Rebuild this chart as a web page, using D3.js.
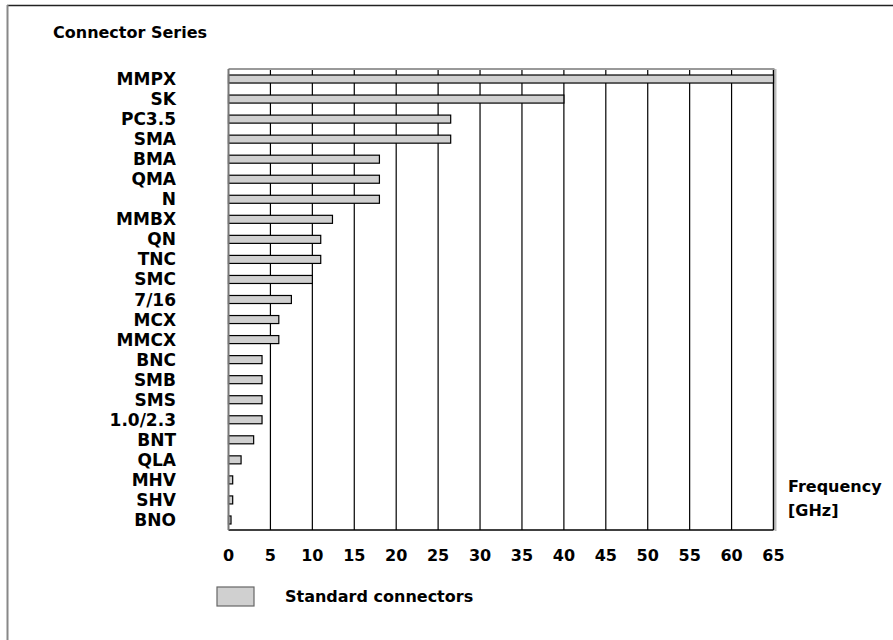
<!DOCTYPE html>
<html>
<head>
<meta charset="utf-8">
<script src="https://cdn.jsdelivr.net/npm/d3@7"></script>
<style>
  html, body { margin: 0; padding: 0; background: #fff; }
  svg text { font-family: "DejaVu Sans", sans-serif; font-weight: bold; fill: #000; }
</style>
</head>
<body>
<svg id="chart" width="893" height="640"></svg>
<script>
const categories = ["MMPX","SK","PC3.5","SMA","BMA","QMA","N","MMBX","QN","TNC","SMC","7/16","MCX","MMCX","BNC","SMB","SMS","1.0/2.3","BNT","QLA","MHV","SHV","BNO"];
const frequencies = [65,40,26.5,26.5,18,18,18,12.4,11,11,10,7.5,6,6,4,4,4,4,3,1.5,0.5,0.5,0.3];
const xTicks = [0,5,10,15,20,25,30,35,40,45,50,55,60,65];
const titleText = "Connector Series";
const axisTitle = ["Frequency", "[GHz]"];
const legendLabel = "Standard connectors";

const svg = d3.select("#chart");
const pL = 228.5, pR = 773.5, pT = 69, pB = 530;

const x = d3.scaleLinear().domain([0, 65]).range([pL, pR]);
const y = d3.scaleBand().domain(categories).range([pT, pB]).paddingInner(0.6).paddingOuter(0.3);

// outer frame (top + left)
svg.append("line").attr("x1", 7).attr("x2", 893).attr("y1", 5.5).attr("y2", 5.5).attr("stroke", "#222").attr("stroke-width", 1.5);
svg.append("line").attr("x1", 7.5).attr("x2", 7.5).attr("y1", 5).attr("y2", 640).attr("stroke", "#888").attr("stroke-width", 2);

// title
svg.append("text").attr("x", 53).attr("y", 38).style("font-size", "16px").text(titleText);

// gridlines
svg.append("g").selectAll("line").data(xTicks.filter(d => d > 0 && d < 65)).join("line")
  .attr("x1", d => x(d)).attr("x2", d => x(d)).attr("y1", pT).attr("y2", pB)
  .attr("stroke", "#000").attr("stroke-width", 1.2);

// frame
svg.append("line").attr("x1", x(65) + 2).attr("x2", x(65) + 2).attr("y1", pT).attr("y2", pB + 1).attr("stroke", "#bbb").attr("stroke-width", 2);
svg.append("line").attr("x1", x(65)).attr("x2", x(65)).attr("y1", pT).attr("y2", pB).attr("stroke", "#000").attr("stroke-width", 1.5);
svg.append("line").attr("x1", pL).attr("x2", pR).attr("y1", pB).attr("y2", pB).attr("stroke", "#000").attr("stroke-width", 1.5);
svg.append("line").attr("x1", pL).attr("x2", pR + 1).attr("y1", pT).attr("y2", pT).attr("stroke", "#999").attr("stroke-width", 2);

// bars
svg.append("g").selectAll("rect").data(categories).join("rect")
  .attr("x", x(0))
  .attr("y", d => y(d))
  .attr("width", (d, i) => x(frequencies[i]) - x(0))
  .attr("height", y.bandwidth())
  .attr("fill", "#d0d0d0").attr("stroke", "#000").attr("stroke-width", 1.2);

svg.append("line").attr("x1", pL).attr("x2", pL).attr("y1", pT).attr("y2", pB).attr("stroke", "#777").attr("stroke-width", 2);

// category labels
svg.append("g").selectAll("text").data(categories).join("text")
  .attr("x", 176).attr("y", d => y(d) + y.bandwidth() / 2 + 6)
  .attr("text-anchor", "end").style("font-size", "17px").text(d => d);

// x tick labels
svg.append("g").selectAll("text").data(xTicks).join("text")
  .attr("x", d => x(d)).attr("y", 561)
  .attr("text-anchor", "middle").style("font-size", "16px").text(d => d);

// axis title
svg.append("g").selectAll("text").data(axisTitle).join("text")
  .attr("x", 788).attr("y", (d, i) => 492 + i * 24)
  .style("font-size", "16px").text(d => d);

// legend
svg.append("rect").attr("x", 217).attr("y", 587).attr("width", 37).attr("height", 19)
  .attr("fill", "#d0d0d0").attr("stroke", "#666").attr("stroke-width", 1.2);
svg.append("text").attr("x", 285).attr("y", 602).style("font-size", "16px").text(legendLabel);
</script>
</body>
</html>
